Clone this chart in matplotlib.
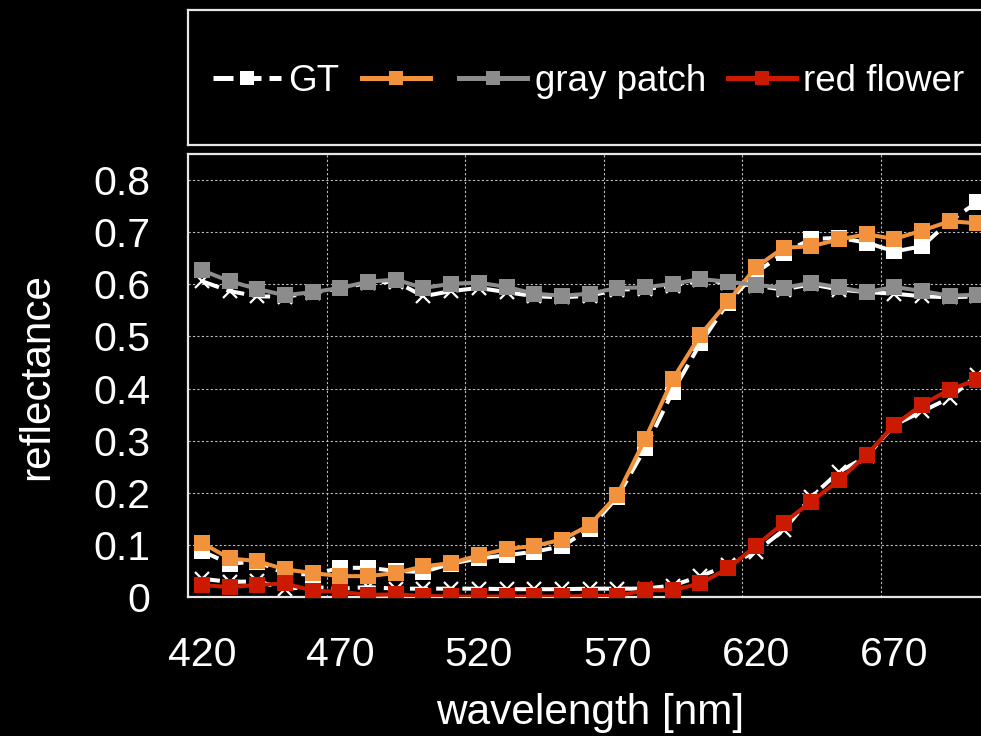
import numpy as np
import matplotlib
matplotlib.use("Agg")
import matplotlib.pyplot as plt
from matplotlib.lines import Line2D

plt.rcParams['font.family'] = ['Liberation Sans', 'DejaVu Sans']

# wavelength samples (nm)
wavelengths = np.arange(420, 701, 10)

orange_est = [0.104, 0.074, 0.069, 0.053, 0.046, 0.040, 0.040, 0.046, 0.059, 0.065,
              0.080, 0.092, 0.098, 0.110, 0.138, 0.196, 0.303, 0.418, 0.503, 0.567,
              0.633, 0.670, 0.673, 0.686, 0.696, 0.687, 0.703, 0.721, 0.717]
orange_gt = [0.088, 0.064, 0.068, 0.045, 0.043, 0.056, 0.056, 0.050, 0.048, 0.064,
             0.074, 0.080, 0.087, 0.097, 0.131, 0.192, 0.285, 0.394, 0.487, 0.565,
             0.622, 0.660, 0.687, 0.689, 0.680, 0.663, 0.673, 0.721, 0.758]

gray_est = [0.627, 0.606, 0.591, 0.579, 0.585, 0.593, 0.605, 0.609, 0.593, 0.601,
            0.603, 0.595, 0.582, 0.578, 0.582, 0.593, 0.594, 0.601, 0.610, 0.605,
            0.599, 0.593, 0.603, 0.594, 0.585, 0.595, 0.587, 0.578, 0.580]
gray_gt = [0.606, 0.587, 0.577, 0.576, 0.584, 0.592, 0.603, 0.605, 0.577, 0.587,
           0.593, 0.585, 0.577, 0.575, 0.578, 0.590, 0.591, 0.597, 0.608, 0.603,
           0.597, 0.590, 0.600, 0.590, 0.585, 0.582, 0.577, 0.575, 0.577]

red_est = [0.023, 0.019, 0.023, 0.026, 0.012, 0.010, 0.004, 0.005, 0.002, 0.001,
           0.001, 0.001, 0.001, 0.001, 0.002, 0.002, 0.013, 0.013, 0.026, 0.055,
           0.098, 0.142, 0.183, 0.224, 0.273, 0.330, 0.369, 0.398, 0.417]
red_gt = [0.035, 0.029, 0.030, 0.016, 0.019, 0.016, 0.019, 0.016, 0.016, 0.016,
          0.016, 0.015, 0.015, 0.015, 0.016, 0.016, 0.016, 0.022, 0.040, 0.061,
          0.087, 0.128, 0.192, 0.240, 0.270, 0.330, 0.356, 0.382, 0.426]

y_ticks = [0, 0.1, 0.2, 0.3, 0.4, 0.5, 0.6, 0.7, 0.8]
y_ticklabels = ['0', '0.1', '0.2', '0.3', '0.4', '0.5', '0.6', '0.7', '0.8']

c_orange = '#F2923D'
c_gray = '#8C8C8C'
c_red = '#CC1A00'
c_frame = '#E6E6E6'

W, H = 981, 736
fig = plt.figure(figsize=(W / 100, H / 100), dpi=100, facecolor='black')

# main axes (extends past the right edge, like the cropped original)
left_px, top_px, bottom_px = 188, 154, 597
right_px = 188 + 27.7 * 32
ax = fig.add_axes([left_px / W, 1 - bottom_px / H, (right_px - left_px) / W,
                   (bottom_px - top_px) / H])
ax.set_facecolor('black')

lw = 2.9
gt_dash = (4.5, 2)
ax.plot(wavelengths, orange_gt, color='white', lw=lw, dashes=gt_dash, marker='s',
        ms=11, mew=0, zorder=2)
ax.plot(wavelengths, gray_gt, color='white', lw=lw, dashes=gt_dash, marker='x',
        ms=10, mew=1.6, zorder=2)
ax.plot(wavelengths, red_gt, color='white', lw=lw, dashes=gt_dash, marker='x',
        ms=10, mew=1.6, zorder=2)
ax.plot(wavelengths, orange_est, color=c_orange, lw=lw, marker='s', ms=11.5, mew=0, zorder=3)
ax.plot(wavelengths, gray_est, color=c_gray, lw=lw, marker='s', ms=11.5, mew=0, zorder=4)
ax.plot(wavelengths, red_est, color=c_red, lw=lw, marker='s', ms=11.5, mew=0, zorder=5)

ax.set_xlim(415, 735)
ax.set_ylim(0, 0.85)
ax.set_xticks(wavelengths[::5])
ax.set_xticks(np.arange(465, 735, 50), minor=True)
ax.set_yticks(y_ticks)
ax.set_yticklabels(y_ticklabels)
ax.tick_params(which='both', length=0, colors='white', labelsize=29.5)
ax.tick_params(axis='y', pad=27)
ax.tick_params(axis='x', pad=28)
ax.grid(which='minor', axis='x', color='#BFBFBF', lw=0.8, ls=(0, (2, 2)))
ax.grid(which='major', axis='y', color='#BFBFBF', lw=0.8, ls=(0, (2, 2)))
ax.grid(which='major', axis='x', visible=False)
for s in ax.spines.values():
    s.set_color(c_frame)
    s.set_linewidth(1.6)

fig.text(590 / W, 1 - 724 / H, 'wavelength [nm]', color='white', fontsize=30.5,
         ha='center', va='baseline')
fig.text(37 / W, 1 - 377 / H, 'reflectance', color='white', fontsize=30.5,
         ha='center', va='center', rotation=90)

# legend box
lax = fig.add_axes([left_px / W, 1 - 145 / H, (right_px - left_px) / W, 135 / H])
lax.set_facecolor('black')
lax.set_xticks([])
lax.set_yticks([])
for s in lax.spines.values():
    s.set_color(c_frame)
    s.set_linewidth(1.6)

handles = [
    Line2D([], [], color='white', lw=3.6, dashes=(4, 1.6), marker='s', ms=9.5, mew=0),
    Line2D([], [], color=c_orange, lw=3.6, marker='s', ms=9.5, mew=0),
    Line2D([], [], color=c_gray, lw=3.6, marker='s', ms=9.5, mew=0),
    Line2D([], [], color=c_red, lw=3.6, marker='s', ms=9.5, mew=0),
]
labels = ['GT', '', 'gray patch', 'red flower']
leg = lax.legend(handles, labels, loc='center left',
                 bbox_to_anchor=(25 / (right_px - left_px), 0.47),
                 ncol=4, frameon=False, fontsize=26.5, handlelength=1.85, handletextpad=0.2,
                 columnspacing=0.6, borderpad=0, borderaxespad=0, numpoints=1)
for t in leg.get_texts():
    t.set_color('white')

fig.savefig('out.png', dpi=100, facecolor='black')
